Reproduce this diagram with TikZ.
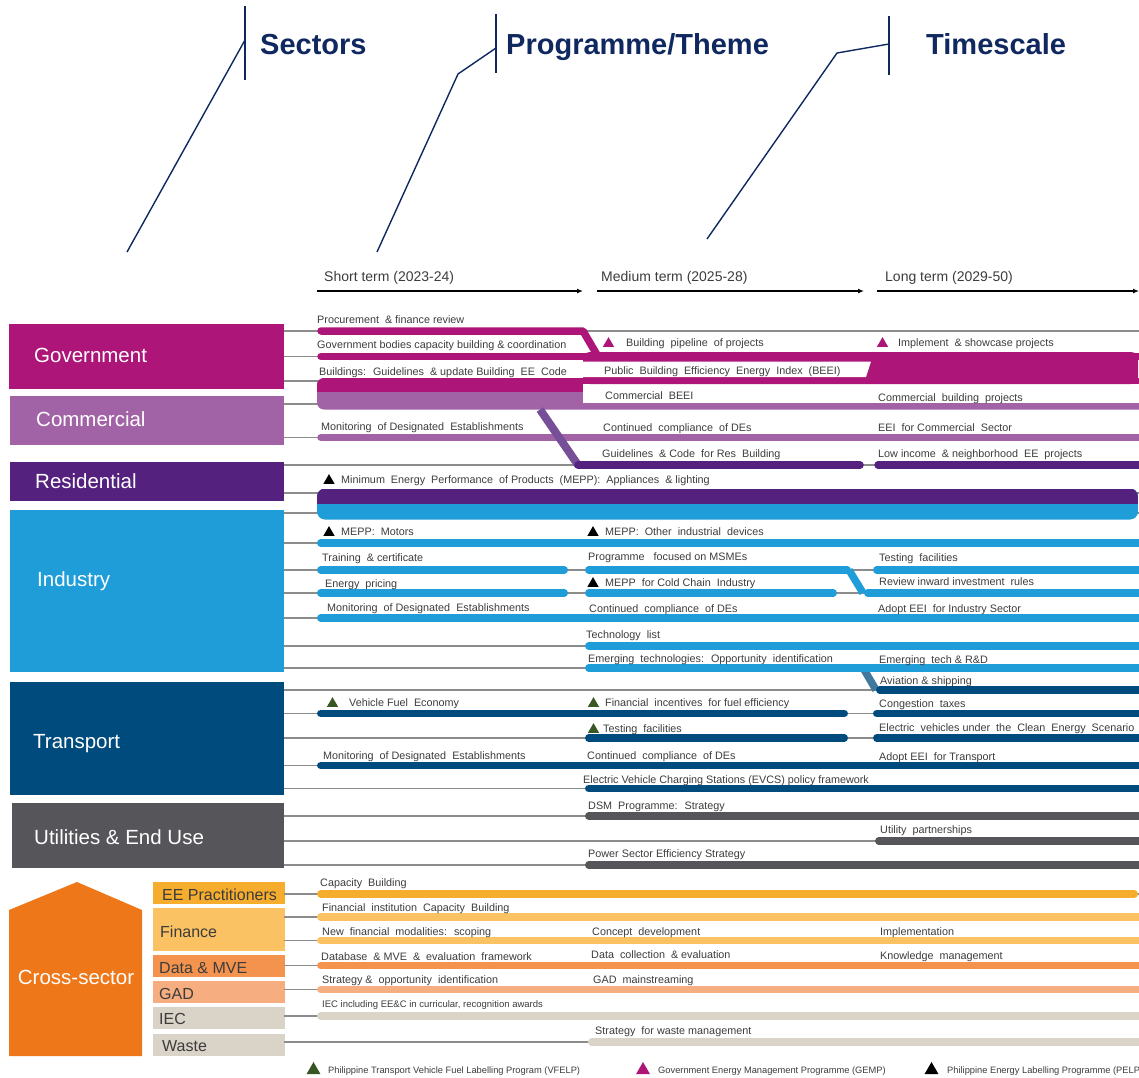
\documentclass[tikz,border=0pt]{standalone}
\usepackage{fontspec}
\setmainfont{Liberation Sans}
\usetikzlibrary{arrows.meta, shapes.geometric}
\definecolor{navy}{RGB}{16,40,96}
\definecolor{gov}{RGB}{173,21,121}
\definecolor{com}{RGB}{162,99,166}
\definecolor{res}{RGB}{85,33,127}
\definecolor{ind}{RGB}{30,157,216}
\definecolor{tra}{RGB}{0,75,125}
\definecolor{uti}{RGB}{85,85,90}
\definecolor{cross}{RGB}{238,119,26}
\definecolor{eep}{RGB}{246,173,45}
\definecolor{fin}{RGB}{250,194,99}
\definecolor{dmve}{RGB}{244,147,78}
\definecolor{gad}{RGB}{246,174,128}
\definecolor{iec}{RGB}{218,211,199}
\definecolor{gridgray}{RGB}{140,140,140}
\definecolor{txt}{RGB}{60,60,60}
\definecolor{vfelp}{RGB}{56,87,35}
\tikzset{
	heading/.style={anchor=base west, inner sep=0pt, text=navy, font=\fontsize{29}{33}\selectfont\bfseries},
	pointer/.style={navy, line width=1.4pt},
	term/.style={anchor=base west, inner sep=0pt, text=txt, font=\fontsize{14}{16}\selectfont},
	timearrow/.style={-{Latex[length=6pt,width=5pt]}, line width=1.6pt, black},
	sector/.style={anchor=base west, inner sep=0pt, text=white, font=\fontsize{20.5}{24}\selectfont},
	subsector/.style={anchor=base west, inner sep=0pt, text=txt, font=\fontsize{16}{19}\selectfont},
	gridline/.style={gridgray, line width=1.6pt},
	bar/.style={line width=7.5pt, line cap=round},
	item/.style={anchor=base west, inner sep=0pt, text=txt, font=\fontsize{10.8}{12}\selectfont},
	marker/.style={regular polygon, regular polygon sides=3, inner sep=0pt, minimum size=13pt},
	legend/.style={anchor=base west, inner sep=0pt, text=txt, font=\fontsize{9.3}{11}\selectfont}
}
\begin{document}
\begin{tikzpicture}[x=1pt, y=-1pt]
	\useasboundingbox (0,0) rectangle (1139,1077);
	\clip (0,0) rectangle (1139,1077);

	% headings
	\node[heading] (sectors)   at (260,54) {Sectors};
	\node[heading] (theme)     at (506,54) {Programme/Theme};
	\node[heading] (timescale) at (926,54) {Timescale};
	\draw[pointer] (245,6) -- (245,80);
	\draw[pointer] (127,252) -- (245,40);
	\draw[pointer] (496,14) -- (496,73);
	\draw[pointer] (377,252) -- (458,74) -- (496,48);
	\draw[pointer] (889,16) -- (889,75);
	\draw[pointer] (707,239) -- (837,53) -- (889,44);

	% time axis
	\node[term] (short)  at (324,281) {Short term (2023-24)};
	\node[term] (medium) at (601,281) {Medium term (2025-28)};
	\node[term] (long)   at (885,281) {Long term (2029-50)};
	\draw[timearrow] (317,291) -- (583,291);
	\draw[timearrow] (597,291) -- (864,291);
	\draw[timearrow] (877,291) -- (1139,291);

	% sector boxes
	\fill[gov] (9,324) rectangle (284,389);
	\fill[com] (10,396) rectangle (284,445);
	\fill[res] (10,462) rectangle (284,501);
	\fill[ind] (10,510) rectangle (284,672);
	\fill[tra] (10,682) rectangle (284,795);
	\fill[uti] (12,803) rectangle (284,868);
	\fill[cross] (9,1056) -- (9,910) -- (77,882) -- (142,910) -- (142,1056) -- cycle;
	\fill[eep]  (153,882) rectangle (285,904);
	\fill[fin]  (153,908) rectangle (285,951);
	\fill[dmve] (153,955) rectangle (285,977);
	\fill[gad]  (153,981) rectangle (285,1003);
	\fill[iec]  (153,1007) rectangle (285,1029);
	\fill[iec]  (153,1034) rectangle (285,1056);

	\node[sector] (government)  at (34,362.5) {Government};
	\node[sector] (commercial)  at (36,426)   {Commercial};
	\node[sector] (residential) at (35,488.5) {Residential};
	\node[sector] (industry)    at (37,586)   {Industry};
	\node[sector] (transport)   at (33,748.5) {Transport};
	\node[sector] (utilities)   at (34,844.5) {Utilities \& End Use};
	\node[sector, anchor=base] (crosssector) at (76,984) {Cross-sector};
	\node[subsector] (eeprac) at (162,900)  {EE Practitioners};
	\node[subsector] (finance) at (160,937) {Finance};
	\node[subsector] (datamve) at (159,973) {Data \& MVE};
	\node[subsector] (gadlbl) at (159,999)  {GAD};
	\node[subsector] (ieclbl) at (159,1024) {IEC};
	\node[subsector] (waste) at (162,1051)  {Waste};

	% rows
	\foreach \y in {331,356.5,381,404,437.5,465,493,513,543,570,593,618,646,668,690,713.5,738,765.5,788.5,816,841,865,894,917,940.5,965.5,989.5,1016,1042}
		\draw[gridline] (284,\y) -- (1139,\y);

	% government / commercial bars
	\draw[bar, gov, line join=round] (321,331) -- (583,331) -- (598,356.5);
	\draw[bar, gov] (321,356.5) -- (1150,356.5);
	\begin{scope}
		\clip[rounded corners=7pt] (317,378) rectangle (1200,409.5);
		\fill[com] (317,378) rectangle (1139,409.5);
		\fill[gov] (317,378) rectangle (1139,392);
		\fill[white] (583,384) rectangle (1139,402.5);
	\end{scope}
	\fill[gov, rounded corners=7pt] (583,352) rectangle (1138,384);
	\fill[white] (583,361.5) -- (871,361.5) -- (866,377) -- (583,377) -- cycle;
	\draw[bar, com] (321,437.5) -- (1150,437.5);
	\draw[res!80!white, line width=8pt] (540,409.5) -- (578,465);
	\draw[bar, res] (578,465) -- (860,465);
	\draw[bar, res] (878,465) -- (1150,465);

	% residential / industry
	\begin{scope}
		\clip[rounded corners=8pt] (317,488.5) rectangle (1138,519.5);
		\fill[ind] (317,488.5) rectangle (1138,519.5);
		\fill[res] (317,488.5) rectangle (1138,503.5);
	\end{scope}
	\draw[tra!75!white, line width=7.5pt] (862,666) -- (876,690);
	\draw[ind, line width=7.5pt] (849,570) -- (863,593);
	\foreach \xa/\xb/\y/\col in {317/1150/543/ind, 317/568/570/ind, 585/851/570/ind, 873/1150/570/ind,
			317/568/593/ind, 585/837/593/ind, 864/1150/593/ind, 317/1150/618/ind, 585/1150/646/ind, 585/1150/668/ind,
			876/1150/690/tra, 317/848/713.5/tra, 873/1150/713.5/tra, 585/848/738/tra, 873/1150/738/tra,
			317/1150/765.5/tra, 585/1150/788.5/tra,
			585/1150/816/uti, 875/1150/841/uti, 585/1150/865/uti,
			317/1138/894/eep, 317/1150/917/fin, 317/1150/940.5/fin, 317/1150/965.5/dmve,
			317/1150/989.5/gad, 317/1150/1016/iec, 588/1150/1042/iec}
		\draw[bar, \col] (\xa+3.75,\y) -- (\xb-3.75,\y);

	% markers
	\node[marker, fill=gov]   (gemp1) at (608.5,343.6) {};
	\node[marker, fill=gov]   (gemp2) at (882.5,343.6) {};
	\node[marker, fill=black] (pelp1) at (329,480.6) {};
	\node[marker, fill=black] (pelp2) at (329,532.6) {};
	\node[marker, fill=black] (pelp3) at (593,532.6) {};
	\node[marker, fill=black] (pelp4) at (593,583.6) {};
	\node[marker, fill=vfelp] (vfelp1) at (332.5,703.6) {};
	\node[marker, fill=vfelp] (vfelp2) at (593.5,703.6) {};
	\node[marker, fill=vfelp] (vfelp3) at (593.5,729.6) {};

	% government
	\node[item] (procure)   at (317,323) {Procurement \ \& finance review};
	\node[item] (govbodies) at (317,348) {Government bodies capacity building \& coordination};
	\node[item] (bldcode)   at (319,375) {Buildings: \ Guidelines \ \& update Building \ EE \ Code};
	\node[item] (pipeline)  at (626,346) {Building \ pipeline \ of projects};
	\node[item] (showcase)  at (898,346) {Implement \ \& showcase projects};
	\node[item] (pbeei)     at (604,374) {Public \ Building \ Efficiency \ Energy \ Index \ (BEEI)};
	% commercial
	\node[item] (combeei)   at (605,399) {Commercial \ BEEI};
	\node[item] (comproj)   at (878,401) {Commercial \ building \ projects};
	\node[item] (common)    at (321,430) {Monitoring \ of Designated \ Establishments};
	\node[item] (comdes)    at (603,431) {Continued \ compliance \ of DEs};
	\node[item] (comeei)    at (878,431) {EEI \ for Commercial \ Sector};
	\node[item] (rescode)   at (602,457) {Guidelines \ \& Code \ for Res \ Building};
	\node[item] (lowinc)    at (878,457) {Low income \ \& neighborhood \ EE \ projects};
	% residential
	\node[item] (mepp)      at (341,483) {Minimum \ Energy \ Performance \ of Products \ (MEPP): \ Appliances \ \& lighting};
	% industry
	\node[item] (motors)    at (341,535) {MEPP: \ Motors};
	\node[item] (otherdev)  at (605,535) {MEPP: \ Other \ industrial \ devices};
	\node[item] (training)  at (322,561) {Training \ \& certificate};
	\node[item] (msme)      at (588,560) {Programme \ \ focused on MSMEs};
	\node[item] (indtest)   at (879,561) {Testing \ facilities};
	\node[item] (pricing)   at (325,587) {Energy \ pricing};
	\node[item] (coldchain) at (605,586) {MEPP \ for Cold Chain \ Industry};
	\node[item] (inward)    at (879,585) {Review inward investment \ rules};
	\node[item] (indmon)    at (327,611) {Monitoring \ of Designated \ Establishments};
	\node[item] (inddes)    at (589,612) {Continued \ compliance \ of DEs};
	\node[item] (indeei)    at (878,612) {Adopt EEI \ for Industry Sector};
	\node[item] (techlist)  at (586,638) {Technology \ list};
	\node[item] (emerging)  at (588,662) {Emerging \ technologies: \ Opportunity \ identification};
	\node[item] (rnd)       at (879,663) {Emerging \ tech \& R\&D};
	% transport
	\node[item] (aviation)  at (880,684) {Aviation \& shipping};
	\node[item] (fueleco)   at (349,706) {Vehicle Fuel \ Economy};
	\node[item] (incent)    at (605,706) {Financial \ incentives \ for fuel efficiency};
	\node[item] (congest)   at (879,707) {Congestion \ taxes};
	\node[item] (tratest)   at (603,732) {Testing \ facilities};
	\node[item] (evclean)   at (879,731) {Electric \ vehicles under \ the \ Clean \ Energy \ Scenario};
	\node[item] (tramon)    at (323,759) {Monitoring \ of Designated \ Establishments};
	\node[item] (trades)    at (587,759) {Continued \ compliance \ of DEs};
	\node[item] (traeei)    at (879,760) {Adopt EEI \ for Transport};
	\node[item] (evcs)      at (583,783) {Electric Vehicle Charging Stations (EVCS) policy framework};
	% utilities
	\node[item] (dsm)       at (588,809) {DSM \ Programme: \ Strategy};
	\node[item] (utilpart)  at (880,833) {Utility \ partnerships};
	\node[item] (power)     at (588,857) {Power Sector Efficiency Strategy};
	% cross-sector
	\node[item] (capbuild)  at (320,886) {Capacity \ Building};
	\node[item] (fininst)   at (322,911) {Financial \ institution \ Capacity \ Building};
	\node[item] (scoping)   at (322,935) {New \ financial \ modalities: \ scoping};
	\node[item] (concept)   at (592,935) {Concept \ development};
	\node[item] (implement) at (880,935) {Implementation};
	\node[item] (database)  at (321,960) {Database \ \& MVE \ \& \ evaluation \ framework};
	\node[item] (datacoll)  at (591,958) {Data \ collection \ \& evaluation};
	\node[item] (knowledge) at (880,959) {Knowledge \ management};
	\node[item] (gadopp)    at (322,983) {Strategy \& \ opportunity \ identification};
	\node[item] (gadmain)   at (593,983) {GAD \ mainstreaming};
	\node[item, font=\fontsize{9.5}{11}\selectfont] (ieccur) at (322,1007) {IEC including EE\&C in curricular, recognition awards};
	\node[item] (wastemgmt) at (595,1034) {Strategy \ for waste management};

	% legend
	\node[marker, minimum size=16pt, fill=vfelp] (legvfelp) at (313.5,1070) {};
	\node[legend] (legvfelptxt) at (328,1073) {Philippine Transport Vehicle Fuel Labelling Program (VFELP)};
	\node[marker, minimum size=16pt, fill=gov] (leggemp) at (643,1070) {};
	\node[legend] (leggemptxt) at (658,1073) {Government Energy Management Programme (GEMP)};
	\node[marker, minimum size=16pt, fill=black] (legpelp) at (931.5,1070) {};
	\node[legend] (legpelptxt) at (947,1073) {Philippine Energy Labelling Programme (PELP)};
\end{tikzpicture}
\end{document}
